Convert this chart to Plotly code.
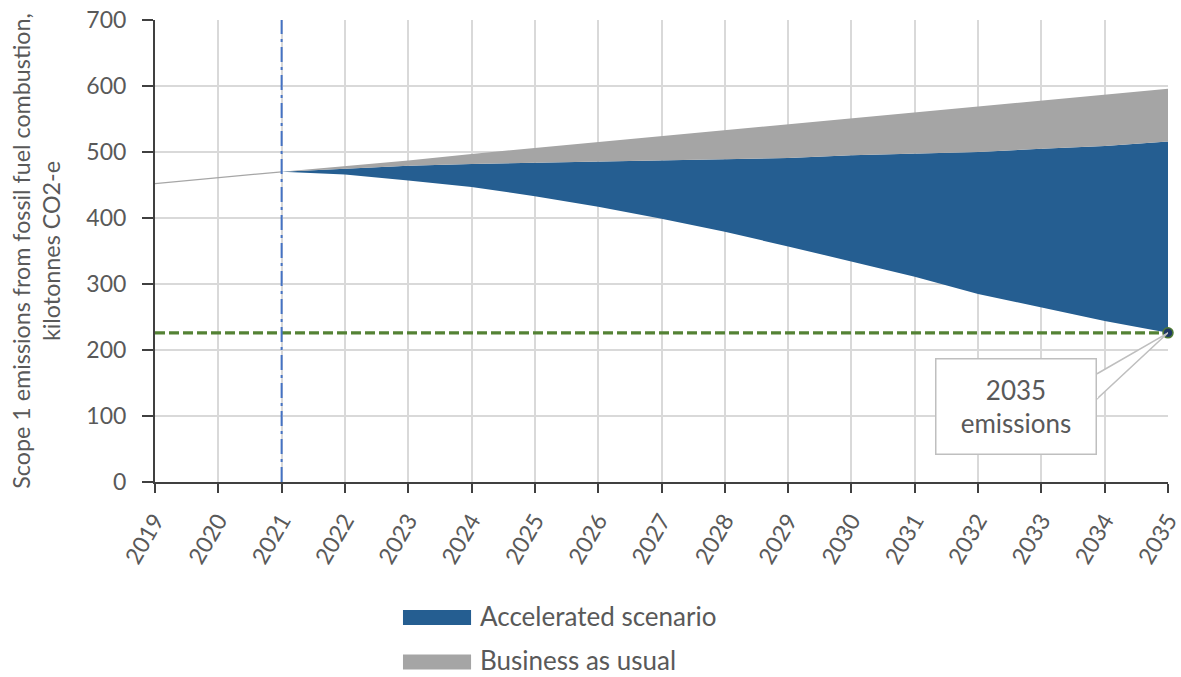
import plotly.graph_objects as go

# ---- data ----
hist_years = [2019, 2020, 2021]
hist_values = [452, 461, 470]

proj_years = [2021, 2022, 2023, 2024, 2025, 2026, 2027, 2028, 2029, 2030,
              2031, 2032, 2033, 2034, 2035]
accelerated_low = [470, 466, 457, 447, 433, 417, 399, 379, 357, 334,
                   311, 285, 264, 244, 226]
accelerated_top = [470, 475, 479, 482, 484, 486, 487, 489, 491, 495,
                   497, 500, 505, 509, 516]
business_as_usual = [470, 478, 487, 497, 506, 515, 524, 534, 542, 552,
                     561, 569, 579, 587, 596]

tick_years = list(range(2019, 2036))
y_ticks = [0, 100, 200, 300, 400, 500, 600, 700]
series_names = ["Accelerated scenario", "Business as usual"]
callout_text = "2035<br>emissions"
y_title = "Scope 1 emissions from fossil fuel combustion,<br>kilotonnes CO2-e"
current_year = 2021

BLUE = "#255E91"
GRAY = "#A5A5A5"
TEXT = "#595959"
FONT = "Lato"

target_year = proj_years[-1]
target_value = accelerated_low[-1]

fig = go.Figure()

# historic line
fig.add_trace(go.Scatter(x=hist_years, y=hist_values, mode="lines",
                         line=dict(color="#A6A6A6", width=1.3),
                         showlegend=False, hoverinfo="skip"))
# base (accelerated trajectory)
fig.add_trace(go.Scatter(x=proj_years, y=accelerated_low, mode="lines",
                         line=dict(width=0, color=BLUE),
                         showlegend=False))
# accelerated band
fig.add_trace(go.Scatter(x=proj_years, y=accelerated_top, mode="lines",
                         line=dict(width=0, color=BLUE), fill="tonexty",
                         fillcolor=BLUE, name=series_names[0], showlegend=False))
# business as usual band
fig.add_trace(go.Scatter(x=proj_years, y=business_as_usual, mode="lines",
                         line=dict(width=0, color=GRAY), fill="tonexty",
                         fillcolor=GRAY, name=series_names[1], showlegend=False))

# target dashed line
fig.add_trace(go.Scatter(x=[tick_years[0], tick_years[-1]],
                         y=[target_value, target_value], mode="lines",
                         line=dict(color="#548235", width=3.4, dash="10px,4px"),
                         showlegend=False, hoverinfo="skip"))

shapes = []
# current-year dash-dot line
shapes.append(dict(type="line", xref="x", yref="y", x0=current_year, x1=current_year,
                   y0=y_ticks[0], y1=y_ticks[-1], layer="above",
                   line=dict(color="#4472C4", width=2, dash="15px,5px,3px,5px")))

# callout wedge
box_right = 2033.88
shapes.append(dict(type="path", xref="x", yref="y",
                   path=f"M {box_right},164 L {target_year},{target_value} L {box_right},126 Z",
                   fillcolor="white", line=dict(color="#BFBFBF", width=1.5), layer="above"))
shapes.append(dict(type="line", xref="x", yref="y", x0=box_right, x1=box_right,
                   y0=127, y1=163, line=dict(color="white", width=2), layer="above"))

# endpoint marker
fig.add_trace(go.Scatter(x=[target_year], y=[target_value], mode="markers",
                         marker=dict(size=10, color="#1F3864",
                                     line=dict(color="#4E7A33", width=1.5)),
                         cliponaxis=False, showlegend=False, hoverinfo="skip"))

annotations = [dict(x=2032.6, y=115, xref="x", yref="y", text=callout_text,
                    showarrow=False, bgcolor="white", bordercolor="#BFBFBF",
                    borderwidth=1.5, borderpad=1, width=157, height=92,
                    font=dict(family=FONT, size=26, color=TEXT))]

# custom legend
legend_rows = [(-0.2933, BLUE), (-0.3896, GRAY)]
for (yc, col), name in zip(legend_rows, series_names):
    shapes.append(dict(type="rect", xref="paper", yref="paper",
                       x0=0.2448, x1=0.312, y0=yc - 0.0162, y1=yc + 0.0162,
                       fillcolor=col, line=dict(width=0)))
    annotations.append(dict(x=0.319, y=yc + 0.004, xref="paper", yref="paper",
                            text=name, showarrow=False, xanchor="left",
                            yanchor="middle",
                            font=dict(family=FONT, size=26, color=TEXT)))

fig.update_layout(
    width=1181, height=677,
    margin=dict(l=155, r=13, t=20, b=195),
    paper_bgcolor="white", plot_bgcolor="white",
    font=dict(family=FONT, color=TEXT),
    shapes=shapes, annotations=annotations,
    showlegend=False,
    xaxis=dict(range=[tick_years[0], tick_years[-1] + 1e-6], tickmode="array",
               tickvals=tick_years, ticktext=[str(y) for y in tick_years],
               tickangle=-60, tickfont=dict(family=FONT, size=23, color=TEXT),
               showgrid=True, gridcolor="#D9D9D9", gridwidth=2,
               showline=True, linecolor="#404040", linewidth=2,
               ticks="outside", ticklen=9, tickwidth=2, tickcolor="#404040",
               ticklabelstandoff=5,
               zeroline=False, automargin=False, ticklabeloverflow="allow"),
    yaxis=dict(range=[y_ticks[0], y_ticks[-1]], tickmode="array",
               tickvals=y_ticks, tickfont=dict(family=FONT, size=23, color=TEXT),
               showgrid=True, gridcolor="#D9D9D9", gridwidth=2,
               showline=True, linecolor="#404040", linewidth=2,
               ticks="outside", ticklen=11, tickwidth=2, tickcolor="#404040",
               ticklabelstandoff=11, zeroline=False, automargin=False,
               title=dict(text=y_title, font=dict(family=FONT, size=23.3, color=TEXT),
                          standoff=19)),
)

fig.write_html("out.html", config={"displayModeBar": False},
               post_script="document.body.style.margin='0';document.body.style.overflow='hidden';")
